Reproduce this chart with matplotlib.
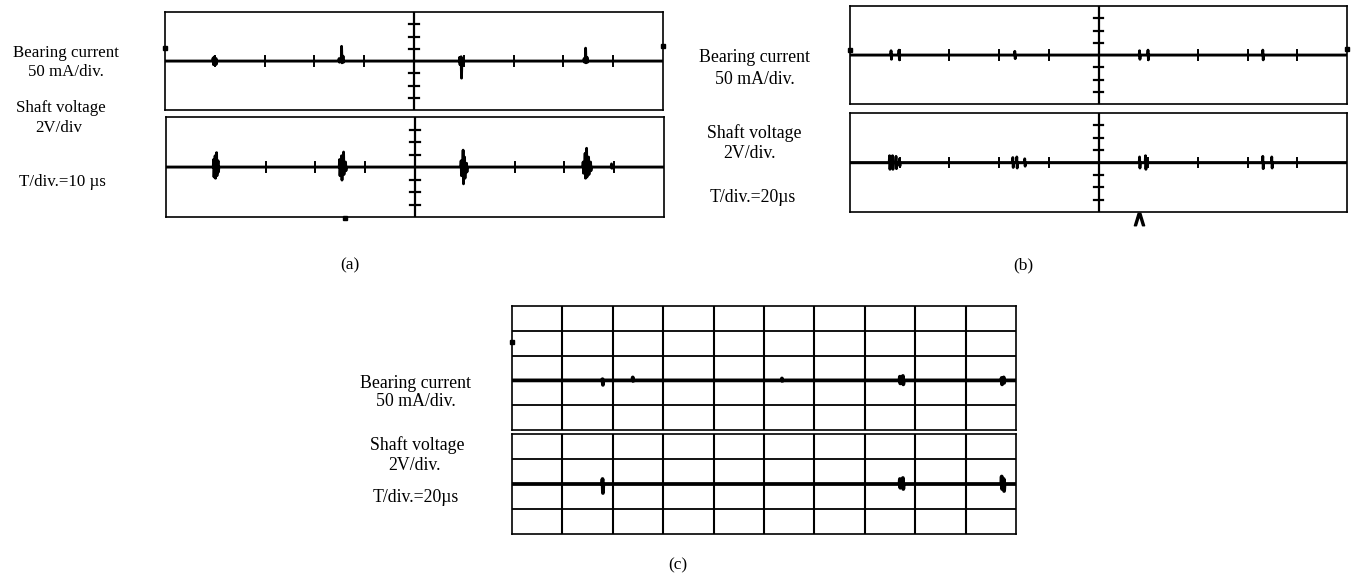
import matplotlib.pyplot as plt

plt.rcParams['font.family'] = ['Liberation Serif', 'DejaVu Serif']

W, H = 1351, 576

# spikes on each trace: (time in div, height up in div, depth down in div)
a_current = [(0.97, 0.25, 0.3), (1.0, 0.35, 0.35), (1.03, 0.2, 0.25),
             (3.5, 0.2, 0.1), (3.55, 1.2, 0.15), (3.58, 0.4, 0.1),
             (5.92, 0.3, 0.3), (5.95, 0.35, 1.4), (5.98, 0.2, 0.3),
             (8.42, 0.2, 0.1), (8.45, 1.05, 0.15), (8.48, 0.3, 0.1)]
a_voltage = [(0.96, 0.6, 0.8), (0.99, 0.9, 0.9), (1.02, 1.15, 0.7), (1.05, 0.5, 0.4),
             (3.49, 0.6, 0.7), (3.53, 0.9, 1.05), (3.57, 1.2, 0.6), (3.61, 0.4, 0.3),
             (5.93, 0.5, 0.7), (5.97, 1.35, 1.35), (6.0, 0.8, 0.9), (6.04, 0.3, 0.4),
             (8.38, 0.4, 0.5), (8.42, 1.1, 0.9), (8.45, 1.5, 0.8), (8.49, 0.8, 0.6),
             (8.53, 0.4, 0.3), (8.95, 0.25, 0.1)]
b_current = [(0.83, 0.35, 0.35), (0.99, 0.4, 0.4), (3.32, 0.3, 0.3),
             (5.83, 0.35, 0.35), (6.0, 0.4, 0.4), (8.31, 0.4, 0.4)]
b_voltage = [(0.8, 0.55, 0.55), (0.86, 0.55, 0.55), (0.93, 0.5, 0.5), (1.0, 0.3, 0.3),
             (3.28, 0.4, 0.4), (3.36, 0.45, 0.45), (3.52, 0.3, 0.3),
             (5.83, 0.45, 0.45), (5.95, 0.55, 0.55),
             (8.31, 0.5, 0.5), (8.49, 0.45, 0.45)]
c_current = [(1.8, 0.05, 0.18), (2.4, 0.12, 0.02), (5.36, 0.08, 0.02),
             (7.7, 0.15, 0.12), (7.76, 0.18, 0.16), (9.72, 0.1, 0.16), (9.76, 0.12, 0.1)]
c_voltage = [(1.8, 0.2, 0.36), (7.7, 0.2, 0.15), (7.76, 0.24, 0.2),
             (9.72, 0.3, 0.2), (9.76, 0.2, 0.28)]

# trigger level dots at box edges
a_trig = [1.06, 1.2]
b_trig = [0.4, 0.5]
c_trig = [1.55]
b_caret = 5.81
a_mark = 3.6

a_labels = ['Bearing current', '50 mA/div.', 'Shaft voltage', '2V/div', 'T/div.=10 \u00b5s']
b_labels = ['Bearing current', '50 mA/div.', 'Shaft voltage', '2V/div.', 'T/div.=20\u00b5s']
c_labels = ['Bearing current', '50 mA/div.', 'Shaft voltage', '2V/div.', 'T/div.=20\u00b5s']


def px_axes(fig, x0, y0, x1, y1):
    return fig.add_axes([x0 / W, 1 - y1 / H, (x1 - x0) / W, (y1 - y0) / H])


def trace_xy(spikes, x_end=10):
    xs, ys = [0.0], [0.0]
    for t, up, down in sorted(spikes):
        xs += [t - 0.012, t - 0.004, t + 0.004, t + 0.012]
        ys += [0, up, -down, 0]
    xs.append(x_end)
    ys.append(0)
    return xs, ys


def scope_box(ax, y0, y1):
    ax.set_xlim(0, 10)
    ax.set_ylim(y0, y1)
    ax.set_xticks([])
    ax.set_yticks([])
    for s in ax.spines.values():
        s.set_linewidth(1.2)
        s.set_color('black')


def centre_graticule(ax):
    ax.axvline(5, color='black', lw=1.6)
    ax.axhline(0, color='black', lw=1.0)
    for k in range(1, 10):
        if k != 5:
            ax.plot([k, k], [-0.4, 0.4], color='black', lw=1.4)
    for j in range(-3, 4):
        if j != 0:
            ax.plot([4.9, 5.1], [j, j], color='black', lw=1.6)


def full_grid(ax, y0, y1):
    for k in range(1, 10):
        ax.axvline(k, color='black', lw=1.5)
    for j in range(y0 + 1, y1):
        ax.axhline(j, color='black', lw=1.3)


fig = plt.figure(figsize=(W / 100, H / 100), dpi=100)

# (a)
ax = px_axes(fig, 165, 12, 663, 110)
scope_box(ax, -4, 4)
centre_graticule(ax)
ax.plot(*trace_xy(a_current), color='black', lw=2)
ax.plot([0, 10], a_trig, 's', color='black', ms=2.5, clip_on=False)

ax = px_axes(fig, 166, 117, 664, 217)
scope_box(ax, -4, 4)
centre_graticule(ax)
ax.plot(*trace_xy(a_voltage), color='black', lw=2)
ax.plot([a_mark], [-4.1], 's', color='black', ms=2.5, clip_on=False)

for lab, (x, y) in zip(a_labels, [(66, 53), (66, 72), (61, 108), (59, 128), (62, 182)]):
    fig.text(x / W, 1 - y / H, lab, ha='center', va='center', fontsize=12.2)
fig.text(350 / W, 1 - 265 / H, '(a)', ha='center', va='center', fontsize=12.5)

# (b)
ax = px_axes(fig, 850, 6, 1347, 104)
scope_box(ax, -4, 4)
centre_graticule(ax)
ax.plot(*trace_xy(b_current), color='black', lw=2)
ax.plot([0, 10], b_trig, 's', color='black', ms=2.5, clip_on=False)

ax = px_axes(fig, 850, 113, 1347, 212)
scope_box(ax, -4, 4)
centre_graticule(ax)
ax.plot(*trace_xy(b_voltage), color='black', lw=2)
ax.plot([b_caret], [-4.6], marker=r'$\wedge$', ms=9, color='black', clip_on=False)

for lab, (x, y) in zip(b_labels, [(754, 58), (755, 80), (754, 133), (749, 153), (753, 198)]):
    fig.text(x / W, 1 - y / H, lab, ha='center', va='center', fontsize=12.8)
fig.text(1023 / W, 1 - 265 / H, '(b)', ha='center', va='center', fontsize=12.5)

# (c)
ax = px_axes(fig, 512, 306, 1016, 430)
scope_box(ax, -2, 3)
full_grid(ax, -2, 3)
ax.plot(*trace_xy(c_current), color='black', lw=2.7)
ax.plot([0], c_trig, 's', color='black', ms=2.5, clip_on=False)

ax = px_axes(fig, 512, 434, 1016, 534)
scope_box(ax, -2, 2)
full_grid(ax, -2, 2)
ax.plot(*trace_xy(c_voltage), color='black', lw=2.7)

for lab, (x, y) in zip(c_labels, [(416, 383), (416, 402), (417, 445), (415, 465), (416, 497)]):
    fig.text(x / W, 1 - y / H, lab, ha='center', va='center', fontsize=12.8)
fig.text(678 / W, 1 - 565 / H, '(c)', ha='center', va='center', fontsize=12.5)

fig.savefig('out.png', dpi=100, facecolor='white')
